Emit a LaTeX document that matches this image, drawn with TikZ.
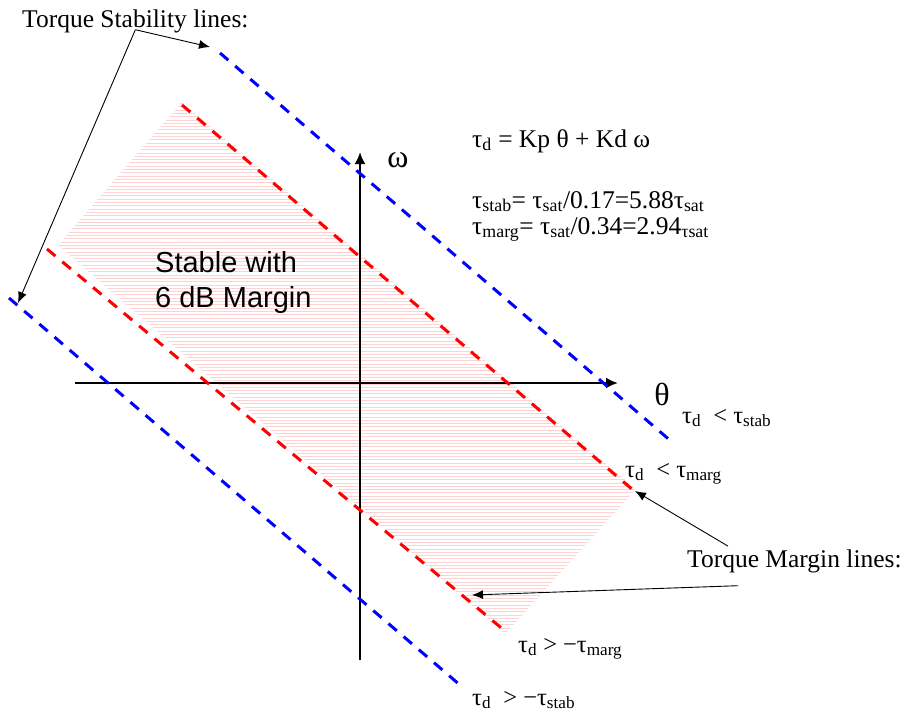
\documentclass[tikz,border=0pt]{standalone}
\usepackage{fontspec}
\setmainfont{Liberation Serif}
\setsansfont{Liberation Sans}
\usetikzlibrary{arrows.meta}

\begin{document}
\begin{tikzpicture}[
	x=1pt, y=-1pt,
	sl/.style = {draw=blue,	line width=3pt,	dash pattern=on 11pt off 9pt},
	ml/.style = {draw=red,	line width=3pt,	dash pattern=on 11pt off 9pt},
	ax/.style = {-{Latex[length=12pt, width=11pt]},	line width=2.6pt},
	ar/.style = {-{Latex[length=11pt, width=9pt]},	line width=0.9pt},
	lb/.style = {anchor=base west, inner sep=0, font=\fontsize{24.5}{28}\selectfont},
	hl/.style = {draw=red!18, line width=0.55pt}
	]
	\useasboundingbox (0,0) rectangle (905,715);
	
	% ===== ===== ===== ===== =====
	
	% Hatched area
	\begin{scope}
		\clip (182,102) -- (58,245) -- (505,634) -- (636,489) -- cycle;
		\foreach \y in {100,103.3,...,640}
			\draw[hl] (40,\y) -- (660,\y);
	\end{scope}
	
	
	
	% ===== ===== ===== ===== =====
	
	% Coordinates
	\coordinate	(x0)	at	(75,383);
	\coordinate	(x1)	at	(618,383);
	\coordinate	(y0)	at	(360,660);
	\coordinate	(y1)	at	(360,152);
	
	\coordinate	(s1a)	at	(220,53);
	\coordinate	(s1b)	at	(672,442);
	\coordinate	(s2a)	at	(9,298);
	\coordinate	(s2b)	at	(460,685);
	\coordinate	(m1a)	at	(182,105);
	\coordinate	(m1b)	at	(633,490);
	\coordinate	(m2a)	at	(47,249);
	\coordinate	(m2b)	at	(505,631);
	
	\coordinate	(s1tip)	at	(210,47);
	\coordinate	(s2tip)	at	(18,303);
	\coordinate	(m1tip)	at	(635,491);
	\coordinate	(m2tip)	at	(472,595);
	
	% Lines
	\draw[ax]	(x0)	--	(x1);
	\draw[ax]	(y0)	--	(y1);
	
	\draw[sl]	(s1a)	--	(s1b);
	\draw[sl]	(s2a)	--	(s2b);
	\draw[ml]	(m1a)	--	(m1b);
	\draw[ml]	(m2a)	--	(m2b);
	
	
	
	% ===== ===== ===== ===== =====
	
	% Nodes
	\node[inner sep=0, font=\fontsize{32}{32}\selectfont]	(omega)	at	(398,160)	{ω};
	\node[inner sep=0, font=\fontsize{32}{32}\selectfont]	(theta)	at	(662,394)	{θ};
	
	\node[lb, font=\fontsize{25.5}{30}\selectfont]	(stabtxt)	at	(22,27)	{Torque Stability lines:};
	\node[lb, font=\fontsize{25.5}{30}\selectfont]	(margtxt)	at	(687,567)	{Torque Margin lines:};
	
	\node[lb, font=\fontsize{25.5}{30}\selectfont]	(law)	at	(472,147)	{τ\textsubscript{d} = Kp θ + Kd ω};
	\node[lb, font=\fontsize{25.5}{30}\selectfont]	(stab)	at	(472,208)	{τ\textsubscript{stab}= τ\textsubscript{sat}/0.17=5.88τ\textsubscript{sat}};
	\node[lb, font=\fontsize{25.5}{30}\selectfont]	(marg)	at	(472,234)	{τ\textsubscript{marg}= τ\textsubscript{sat}/0.34=2.94\textsubscript{τsat}};
	
	\node[anchor=north west, inner sep=0, align=left, font=\sffamily\fontsize{29}{35}\selectfont]
		(zone)	at	(155,251)	{Stable with\\6 dB Margin};
	
	\node[lb]	(ltstab)	at	(682,423)	{τ\textsubscript{d}~~< τ\textsubscript{stab}};
	\node[lb]	(ltmarg)	at	(625,477)	{τ\textsubscript{d}~~< τ\textsubscript{marg}};
	\node[lb]	(gtmarg)	at	(518,652)	{τ\textsubscript{d} > −τ\textsubscript{marg}};
	\node[lb]	(gtstab)	at	(472,705)	{τ\textsubscript{d}~~> −τ\textsubscript{stab}};
	
	% Pointers
	\draw[ar]	([yshift=3pt]stabtxt.south)	--	(s1tip);
	\draw[ar]	([yshift=3pt]stabtxt.south)	--	(s2tip);
	\draw[ar]	([shift={(41pt,3pt)}]margtxt.north west)	--	(m1tip);
	\draw[ar]	([shift={(51pt,-13pt)}]margtxt.south west)	--	(m2tip);
	
\end{tikzpicture}
\end{document}
